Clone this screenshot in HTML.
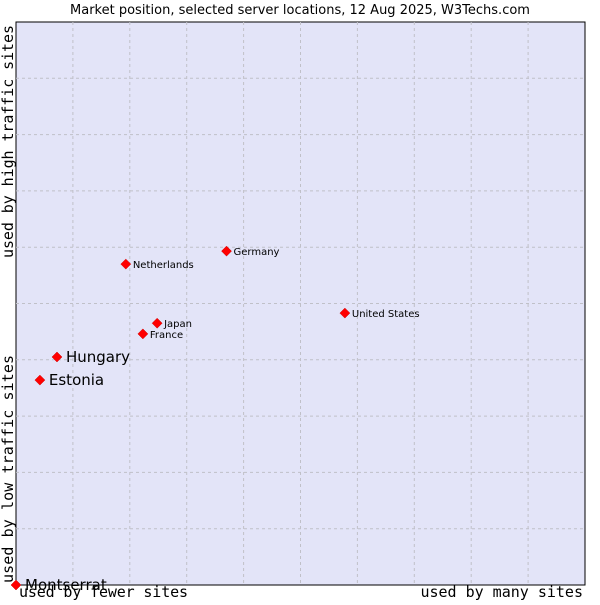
<!DOCTYPE html>
<html><head><meta charset="utf-8"><style>
body{margin:0;background:#fff;width:600px;height:600px;overflow:hidden}
svg text{font-family:"DejaVu Sans","Liberation Sans",sans-serif}
.mono{font-family:"DejaVu Sans Mono","Liberation Mono",monospace}
</style></head><body>
<svg id="chart" width="600" height="600">
<text x="300" y="14" text-anchor="middle" font-size="13">Market position, selected server locations, 12 Aug 2025, W3Techs.com</text>
<rect x="16" y="22" width="569" height="563" fill="#e3e4f8" stroke="#000" stroke-width="1"/>
<g id="grid"></g>
<g id="points"></g>
<text class="mono" x="19" y="597" font-size="15" textLength="169">used by fewer sites</text>
<text class="mono" x="583" y="597" font-size="15" text-anchor="end">used by many sites</text>
<text class="mono" transform="translate(13,583) rotate(-90)" font-size="15" textLength="228">used by low traffic sites</text>
<text class="mono" transform="translate(13,258) rotate(-90)" font-size="15" textLength="233">used by high traffic sites</text>
</svg>
<script>
const names=["Montserrat","Estonia","Hungary","Netherlands","Germany","Japan","France","United States"];
const xVals=[0,4.2,7.2,19.3,37.0,24.8,22.3,57.8];
const yVals=[0,36.4,40.5,57.0,59.3,46.5,44.6,48.3];
const bigLabel=[true,true,true,false,false,false,false,false];
const L=16,R=585,T=22,B=585;
const sx=v=>L+v/100*(R-L), sy=v=>B-v/100*(B-T);
const ns="http://www.w3.org/2000/svg";
const grid=document.getElementById('grid'), pts=document.getElementById('points');
for(let i=1;i<10;i++){
  const v=document.createElementNS(ns,'line');
  
  
  v.setAttribute('x1',sx(i*10));v.setAttribute('x2',sx(i*10));v.setAttribute('y1',T);v.setAttribute('y2',B);
  v.setAttribute('stroke','#c0c0c8');v.setAttribute('stroke-dasharray','3,3');grid.appendChild(v);
  const h=document.createElementNS(ns,'line');
  
  
  h.setAttribute('y1',sy(i*10));h.setAttribute('y2',sy(i*10));h.setAttribute('x1',L);h.setAttribute('x2',R);
  h.setAttribute('stroke','#c0c0c8');h.setAttribute('stroke-dasharray','3,3');grid.appendChild(h);
}
names.forEach((n,i)=>{
  const x=sx(xVals[i]),y=sy(yVals[i]);
  const d=document.createElementNS(ns,'polygon');
  
  
  d.setAttribute('points',`${x},${y-5} ${x+5},${y} ${x},${y+5} ${x-5},${y}`);
  d.setAttribute('fill','#f00');d.setAttribute('stroke','#c00');d.setAttribute('stroke-width','0.5');
  pts.appendChild(d);
  const t=document.createElementNS(ns,'text');
  
  
  t.setAttribute('x',x+(bigLabel[i]?9:7));
  t.setAttribute('y',y+(bigLabel[i]?5:4));
  t.setAttribute('font-size',bigLabel[i]?15:10);
  t.textContent=n;pts.appendChild(t);
});
</script>
</body></html>
